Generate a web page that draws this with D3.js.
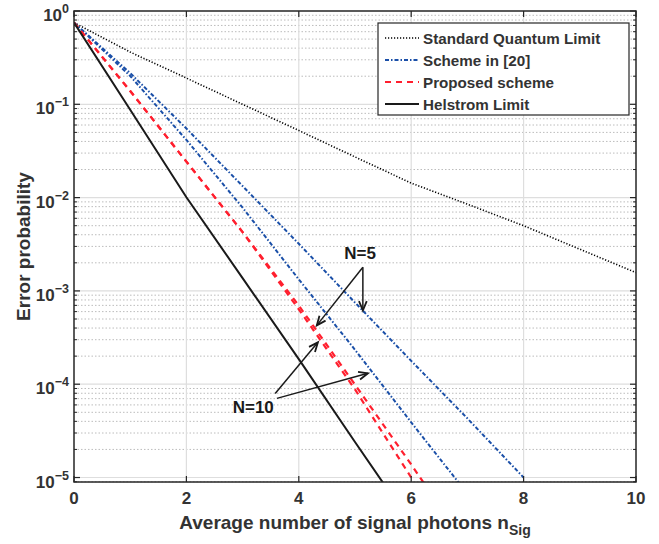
<!DOCTYPE html>
<html>
<head>
<meta charset="utf-8">
<script src="https://cdn.jsdelivr.net/npm/d3@7"></script>
<style>
  body { margin: 0; background: #fff; }
  text { font-family: "Liberation Sans", Arial, sans-serif; font-weight: bold; fill: #333; }
</style>
</head>
<body>
<div id="chart"></div>
<script>
// photons n_Sig
var nSig = [0, 1, 2, 3, 4, 5, 6, 7, 8, 9, 10]

// error probabilities
var sqlLimit = [0.75, 0.363, 0.191, 0.100, 0.0524, 0.0273, 0.0143, 0.0085, 0.0050, 0.0028, 0.00157]
var scheme20N5 = [0.75, 0.216, 0.055, 0.0133, 3.2e-3, 7.5e-4, 1.78e-4, 4.3e-5, 1.0e-5]
var scheme20N10 = [0.75, 0.201, 0.0415, 7.8e-3, 1.33e-3, 2.34e-4, 3.9e-5, 6.7e-6]
var proposedN5 = [0.75, 0.139, 0.0243, 4.27e-3, 6.97e-4, 9.9e-5, 1.38e-5, 1.8e-6]
var proposedN10 = [0.75, 0.139, 0.0243, 4.27e-3, 6.35e-4, 8.8e-5, 1.0e-5]
var helstrom = [0.75, 0.0873, 0.0101, 1.37e-3, 1.86e-4, 2.4e-5, 3.2e-6]

var xTicks = [0, 2, 4, 6, 8, 10]
var yTicks = [-5, -4, -3, -2, -1, 0]

var legendNames = ["Standard Quantum Limit", "Scheme in [20]", "Proposed scheme", "Helstrom Limit"]

var width = 659,
    height = 544,
    margin = { top: 11, right: 23, bottom: 62, left: 74 }

var svg = d3.select("#chart")
    .append("svg")
    .attr("width", width)
    .attr("height", height)

var x = d3.scaleLinear()
    .domain([0, 10])
    .range([margin.left, width - margin.right])

var y = d3.scaleLog()
    .domain([Math.pow(10, -5.048), 1])
    .range([height - margin.bottom, margin.top])

var x0 = x.range()[0], x1 = x.range()[1]
var yb = y.range()[0], yt = y.range()[1]

svg.append("clipPath").attr("id", "clip")
    .append("rect")
    .attr("x", x0).attr("y", yt)
    .attr("width", x1 - x0).attr("height", yb - yt)

// minor grid (dotted)
var minors = []
yTicks.forEach(function (e) {
    for (var k = 2; k <= 9; k++) {
        var v = k * Math.pow(10, e - 1)
        if (v > y.domain()[0] && v < 1) minors.push(v)
    }
})

var grid = svg.append("g")
grid.selectAll(".minor")
    .data(minors)
    .enter()
    .append("line")
    .attr("x1", x0).attr("x2", x1)
    .attr("y1", d => y(d)).attr("y2", d => y(d))
    .attr("stroke", "#bcbcbc")
    .attr("stroke-width", 1)
    .attr("stroke-dasharray", "1.5,2")

grid.selectAll(".majorY")
    .data(yTicks.slice(0, 5))
    .enter()
    .append("line")
    .attr("x1", x0).attr("x2", x1)
    .attr("y1", d => y(Math.pow(10, d))).attr("y2", d => y(Math.pow(10, d)))
    .attr("stroke", "#dedede")
    .attr("stroke-width", 1.2)

grid.selectAll(".majorX")
    .data(xTicks.slice(1, 5))
    .enter()
    .append("line")
    .attr("x1", d => x(d)).attr("x2", d => x(d))
    .attr("y1", yt).attr("y2", yb)
    .attr("stroke", "#dedede")
    .attr("stroke-width", 1.2)

// curves
var series = [
    { values: sqlLimit, color: "#000", dash: "1.2,1.8", w: 1.6 },
    { values: scheme20N5, color: "#1a4fa8", dash: "4,2,1.5,2", w: 2 },
    { values: scheme20N10, color: "#1a4fa8", dash: "4,2,1.5,2", w: 2 },
    { values: proposedN5, color: "#ff1f2e", dash: "6,5", w: 2.2 },
    { values: proposedN10, color: "#ff1f2e", dash: "6,5", w: 2.2 },
    { values: helstrom, color: "#1a1a1a", dash: null, w: 2 }
]

var line = d3.line()
    .x((d, i) => x(nSig[i]))
    .y(d => y(d))

svg.append("g")
    .attr("clip-path", "url(#clip)")
    .selectAll("path")
    .data(series)
    .enter()
    .append("path")
    .attr("d", d => line(d.values))
    .attr("fill", "none")
    .attr("stroke", d => d.color)
    .attr("stroke-width", d => d.w)
    .attr("stroke-dasharray", d => d.dash)

// axes box and ticks
var axisColor = "#262626"
var ax = svg.append("g")

xTicks.forEach(function (t) {
    ax.append("line").attr("x1", x(t)).attr("x2", x(t)).attr("y1", yb).attr("y2", yb - 6)
        .attr("stroke", axisColor).attr("stroke-width", 1.2)
    ax.append("line").attr("x1", x(t)).attr("x2", x(t)).attr("y1", yt).attr("y2", yt + 6)
        .attr("stroke", axisColor).attr("stroke-width", 1.2)
    ax.append("text")
        .attr("x", x(t)).attr("y", yb + 22)
        .attr("text-anchor", "middle")
        .style("font-size", "17px")
        .text(t)
})

yTicks.forEach(function (e) {
    var py = y(Math.pow(10, e))
    ax.append("line").attr("x1", x0).attr("x2", x0 + 6).attr("y1", py).attr("y2", py)
        .attr("stroke", axisColor).attr("stroke-width", 1.2)
    ax.append("line").attr("x1", x1).attr("x2", x1 - 6).attr("y1", py).attr("y2", py)
        .attr("stroke", axisColor).attr("stroke-width", 1.2)
    var t = ax.append("text")
        .attr("x", x0 - 5).attr("y", py + 10)
        .attr("text-anchor", "end")
        .style("font-size", "17px")
    t.append("tspan").text("10")
    t.append("tspan")
        .attr("dy", -8)
        .style("font-size", "12.5px")
        .text(e < 0 ? "\u2212" + (-e) : e)
})

minors.forEach(function (v) {
    var py = y(v)
    ax.append("line").attr("x1", x0).attr("x2", x0 + 3).attr("y1", py).attr("y2", py)
        .attr("stroke", axisColor).attr("stroke-width", 1)
    ax.append("line").attr("x1", x1).attr("x2", x1 - 3).attr("y1", py).attr("y2", py)
        .attr("stroke", axisColor).attr("stroke-width", 1)
})

ax.append("rect")
    .attr("x", x0).attr("y", yt)
    .attr("width", x1 - x0).attr("height", yb - yt)
    .attr("fill", "none")
    .attr("stroke", axisColor)
    .attr("stroke-width", 1.5)

// axis titles
var xt = svg.append("text")
    .attr("x", (x0 + x1) / 2).attr("y", yb + 47)
    .attr("text-anchor", "middle")
    .style("font-size", "19px")
xt.append("tspan").text("Average number of signal photons n")
xt.append("tspan").attr("dy", 6).style("font-size", "14px").text("Sig")

svg.append("text")
    .attr("transform", "translate(30," + (yt + yb) / 2 + ") rotate(-90)")
    .attr("text-anchor", "middle")
    .style("font-size", "19px")
    .text("Error probability")

// legend
var lg = svg.append("g")
lg.append("rect")
    .attr("x", 378).attr("y", 23)
    .attr("width", 251).attr("height", 92)
    .attr("fill", "#fff")
    .attr("stroke", axisColor)
    .attr("stroke-width", 1.2)

var legendStyle = [series[0], series[1], series[3], series[5]]
legendNames.forEach(function (name, i) {
    var ly = 38 + i * 22
    lg.append("line")
        .attr("x1", 385).attr("x2", 419).attr("y1", ly).attr("y2", ly)
        .attr("stroke", legendStyle[i].color)
        .attr("stroke-width", legendStyle[i].w)
        .attr("stroke-dasharray", legendStyle[i].dash)
    lg.append("text")
        .attr("x", 423).attr("y", ly + 5.5)
        .style("font-size", "15.2px")
        .text(name)
})

// annotations
function arrow(from, to) {
    var ax1 = x(from[0]), ay1 = y(from[1]), ax2 = x(to[0]), ay2 = y(to[1])
    var ang = Math.atan2(ay2 - ay1, ax2 - ax1)
    svg.append("line")
        .attr("x1", ax1).attr("y1", ay1).attr("x2", ax2).attr("y2", ay2)
        .attr("stroke", "#1a1a1a").attr("stroke-width", 1.5)
    var L = 10, a = 0.4
    svg.append("path")
        .attr("d", "M" + (ax2 - L * Math.cos(ang - a)) + "," + (ay2 - L * Math.sin(ang - a)) +
            "L" + ax2 + "," + ay2 +
            "L" + (ax2 - L * Math.cos(ang + a)) + "," + (ay2 - L * Math.sin(ang + a)))
        .attr("fill", "none").attr("stroke", "#1a1a1a").attr("stroke-width", 1.8)
}

svg.append("text")
    .attr("x", x(5.09)).attr("y", y(2.18e-3))
    .attr("text-anchor", "middle")
    .style("font-size", "17px")
    .style("fill", "#1a1a1a")
    .text("N=5")
arrow([5.14, 1.79e-3], [4.32, 4.27e-4])
arrow([5.14, 1.79e-3], [5.14, 6.19e-4])

svg.append("text")
    .attr("x", x(3.19)).attr("y", y(4.86e-5))
    .attr("text-anchor", "middle")
    .style("font-size", "17px")
    .style("fill", "#1a1a1a")
    .text("N=10")
arrow([3.58, 7.96e-5], [4.34, 2.81e-4])
arrow([3.61, 7.05e-5], [5.23, 1.31e-4])
</script>
</body>
</html>
